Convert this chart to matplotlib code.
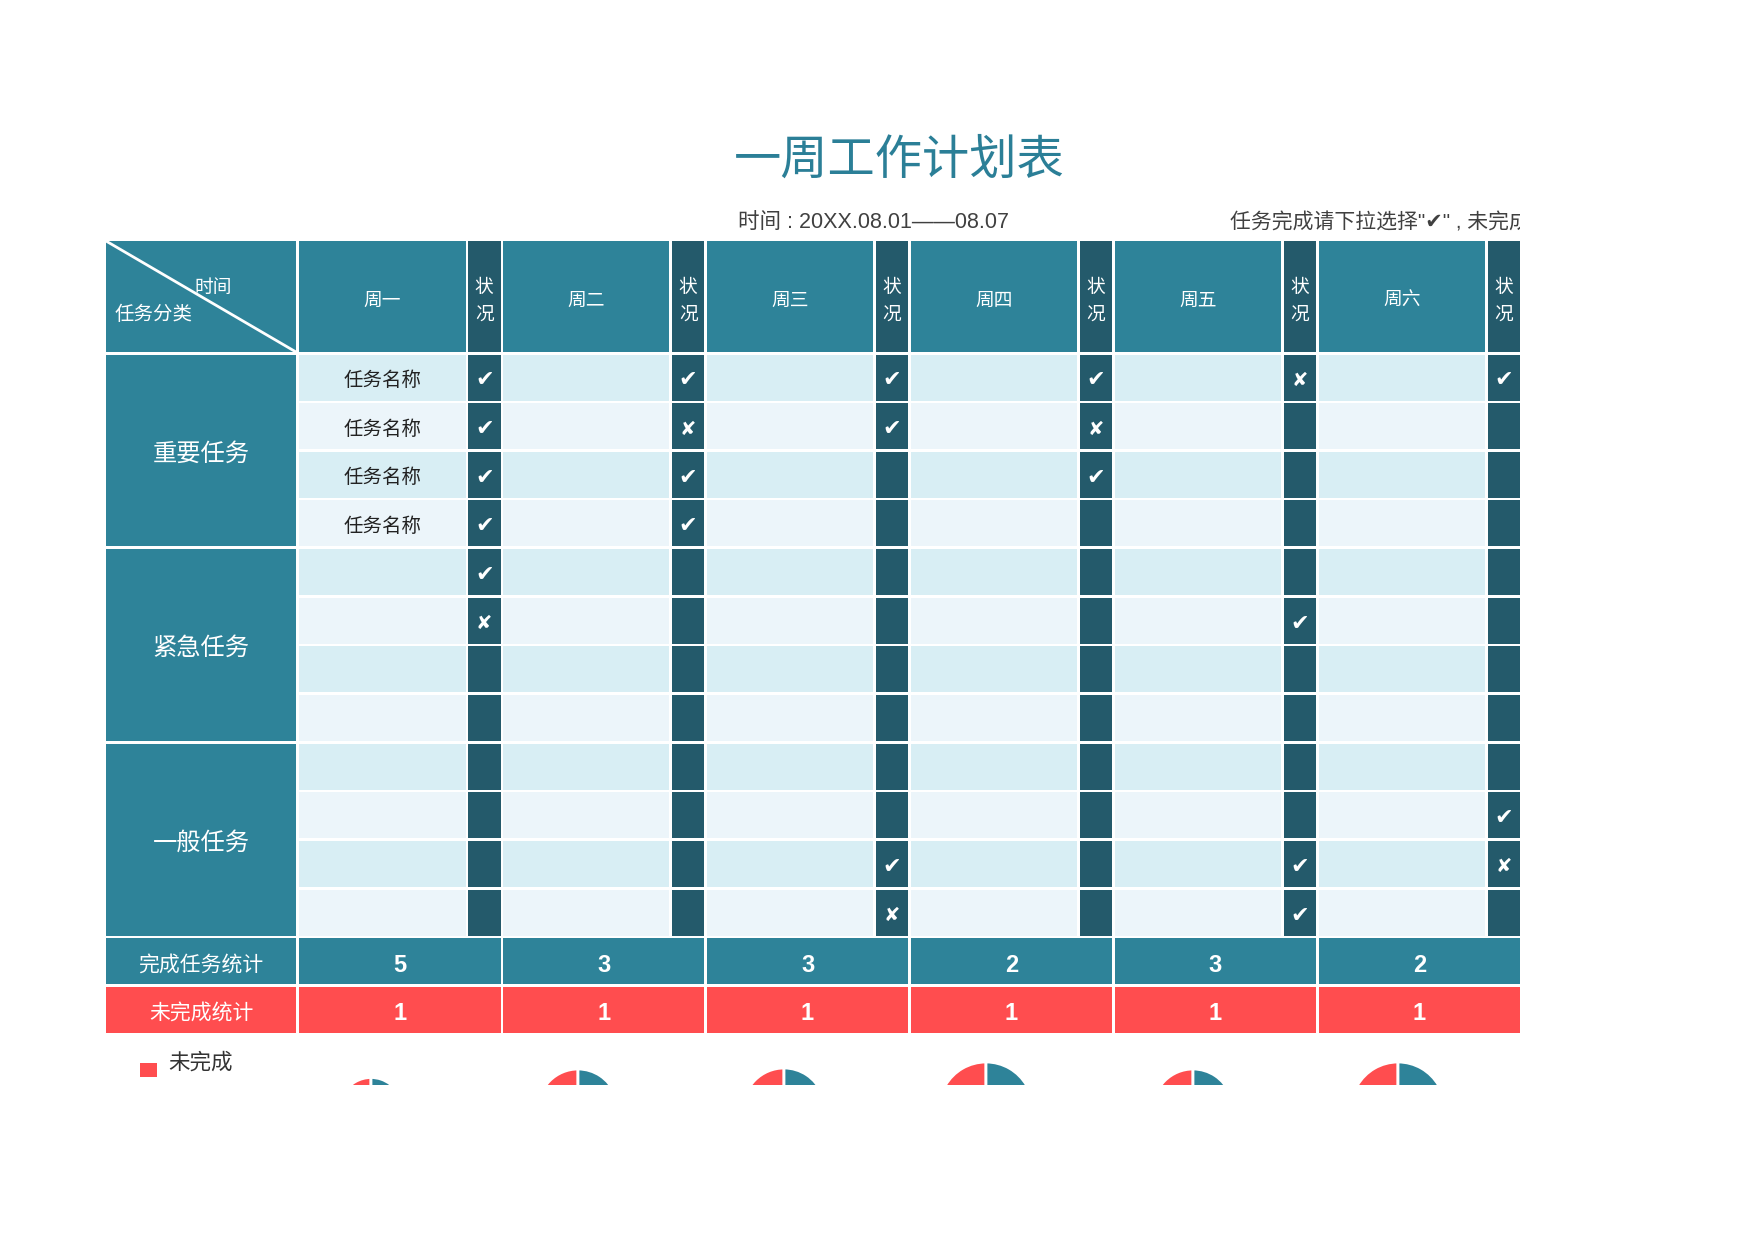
import matplotlib
matplotlib.use('Agg')
import matplotlib.pyplot as plt
from matplotlib.patches import Rectangle
from matplotlib.transforms import Bbox, TransformedBbox

plt.rcParams['font.family'] = ['Noto Sans CJK SC', 'DejaVu Sans']

#datos
title = '一周工作计划表'
date_text = '时间 : 20XX.08.01——08.07'
note_text = '任务完成请下拉选择"✔" , 未完成请下拉选择"✘"'
days = ['周一', '周二', '周三', '周四', '周五', '周六']
groups = ['重要任务', '紧急任务', '一般任务']
mon_tasks = ['任务名称', '任务名称', '任务名称', '任务名称']
# 'v' = hecho, 'x' = no hecho, '' = vacio (12 filas por dia)
st_mon = ['v', 'v', 'v', 'v', 'v', 'x', '', '', '', '', '', '']
st_tue = ['v', 'x', 'v', 'v', '', '', '', '', '', '', '', '']
st_wed = ['v', 'v', '', '', '', '', '', '', '', '', 'v', 'x']
st_thu = ['v', 'x', 'v', '', '', '', '', '', '', '', '', '']
st_fri = ['x', '', '', '', '', 'v', '', '', '', '', 'v', 'v']
st_sat = ['v', '', '', '', '', '', '', '', '', 'v', 'x', '']
status = [st_mon, st_tue, st_wed, st_thu, st_fri, st_sat]
done_counts = [5, 3, 3, 2, 3, 2]
undone_counts = [1, 1, 1, 1, 1, 1]
done_label = '完成任务统计'
undone_label = '未完成统计'
legend_label = '未完成'

#colores
TEAL = '#2e8399'
DARK = '#245a6b'
ROW1 = '#d8eef4'
ROW2 = '#ecf5fa'
RED = '#ff4d4f'
TITLE_C = '#2b7f97'
GRAY = '#404040'

#geometria (pixeles)
W, H = 1754, 1242
x0, x1 = 106, 296
gx0, pitch, day_w, st_off, st_w = 299, 203.9, 166.5, 169, 32.5
hy0, hy1 = 241, 352
ry0, rpitch, rh = 354.5, 48.65, 46
pie_cx = [371, 578, 784, 986, 1193, 1398]
pie_r = [31.5, 40, 41, 47, 40, 47]
pie_cy = 1109
clip_y = 1085
dy = 3  # ajuste vertical del texto

fig = plt.figure(figsize=(W / 100, H / 100), dpi=100)
ax = fig.add_axes([0, 0, 1, 1])
ax.set_xlim(0, W)
ax.set_ylim(0, H)
ax.axis('off')

def Y(y):
    return H - y

def cell(x, y, w, h, color):
    ax.add_patch(Rectangle((x, Y(y + h)), w, h, facecolor=color, edgecolor='none'))

def txt(x, y, s, **kw):
    return ax.text(x, Y(y + dy), s, **kw)

#titulo
txt(899, 157, title, fontsize=34, color=TITLE_C, ha='center', va='center')
txt(738, 219, date_text, fontsize=15.5, color=GRAY, ha='left', va='center',
    family=['Liberation Sans', 'Noto Sans CJK SC'])
t = txt(1230, 219, note_text, fontsize=15, color=GRAY, ha='left', va='center',
        family=['Liberation Sans', 'Noto Sans CJK SC', 'DejaVu Sans'])
t.set_clip_on(True)
t.set_clip_box(TransformedBbox(Bbox([[0, 0], [1520, H]]), ax.transData))

#cabecera
cell(x0, hy0, x1 - x0, hy1 - hy0, TEAL)
ax.plot([x0, x1], [Y(hy0), Y(hy1)], color='white', lw=2)
txt(213, 284, '时间', color='white', fontsize=13.5, ha='center', va='center')
txt(115, 311, '任务分类', color='white', fontsize=14, ha='left', va='center')
for i, d in enumerate(days):
    g = gx0 + i * pitch
    cell(g, hy0, day_w, hy1 - hy0, TEAL)
    cell(g + st_off, hy0, st_w, hy1 - hy0, DARK)
    txt(g + day_w / 2, 297, d, color='white', fontsize=13.5, ha='center', va='center')
    txt(g + st_off + st_w / 2, 284, '状', color='white', fontsize=13.5, ha='center', va='center')
    txt(g + st_off + st_w / 2, 311, '况', color='white', fontsize=13.5, ha='center', va='center')

#filas de tareas
for r in range(12):
    y = ry0 + r * rpitch
    fill = ROW1 if r % 2 == 0 else ROW2
    for i in range(len(days)):
        g = gx0 + i * pitch
        cell(g, y, day_w, rh, fill)
        cell(g + st_off, y, st_w, rh, DARK)
        mark = status[i][r]
        if mark == 'v':
            txt(g + st_off + st_w / 2, y + rh / 2, '✔', color='white', fontsize=16,
                ha='center', va='center', family=['DejaVu Sans'])
        elif mark == 'x':
            txt(g + st_off + st_w / 2, y + rh / 2, '✘', color='white', fontsize=14,
                ha='center', va='center', family=['DejaVu Sans'])
    if r < len(mon_tasks):
        txt(gx0 + day_w / 2, y + rh / 2, mon_tasks[r], color='#222222', fontsize=14,
            ha='center', va='center')

for k, gname in enumerate(groups):
    y = ry0 + 4 * k * rpitch
    h = 3 * rpitch + rh
    cell(x0, y, x1 - x0, h, TEAL)
    txt((x0 + x1) / 2, y + h / 2, gname, color='white', fontsize=17.5, ha='center', va='center')

#estadisticas
for r, (lab, vals, col) in enumerate([(done_label, done_counts, TEAL), (undone_label, undone_counts, RED)]):
    y = ry0 + (12 + r) * rpitch
    cell(x0, y, x1 - x0, rh, col)
    txt((x0 + x1) / 2, y + rh / 2, lab, color='white', fontsize=15, ha='center', va='center')
    for i, v in enumerate(vals):
        g = gx0 + i * pitch
        cell(g, y, st_off + st_w, rh, col)
        txt(g + (st_off + st_w) / 2, y + rh / 2 + 1, str(v), color='white', fontsize=17,
            fontweight='bold', ha='center', va='center', family=['Liberation Sans', 'DejaVu Sans'])

#leyenda
cell(140, 1063, 17, 14, RED)
txt(168, 1060, legend_label, color='#333333', fontsize=15.5, ha='left', va='center')

#tortas
pclip = TransformedBbox(Bbox([[0, Y(clip_y)], [W, H]]), ax.transData)
for i in range(len(days)):
    wedges, _ = ax.pie([undone_counts[i], done_counts[i]], colors=[RED, TEAL], startangle=90,
                       center=(pie_cx[i], Y(pie_cy)), radius=pie_r[i],
                       wedgeprops=dict(edgecolor='white', linewidth=2))
    for w_ in wedges:
        w_.set_clip_on(True)
        w_.set_clip_box(pclip)

ax.set_xlim(0, W)
ax.set_ylim(0, H)
ax.set_aspect('auto')
ax.axis('off')
fig.savefig('out.png', dpi=100, facecolor='white')
